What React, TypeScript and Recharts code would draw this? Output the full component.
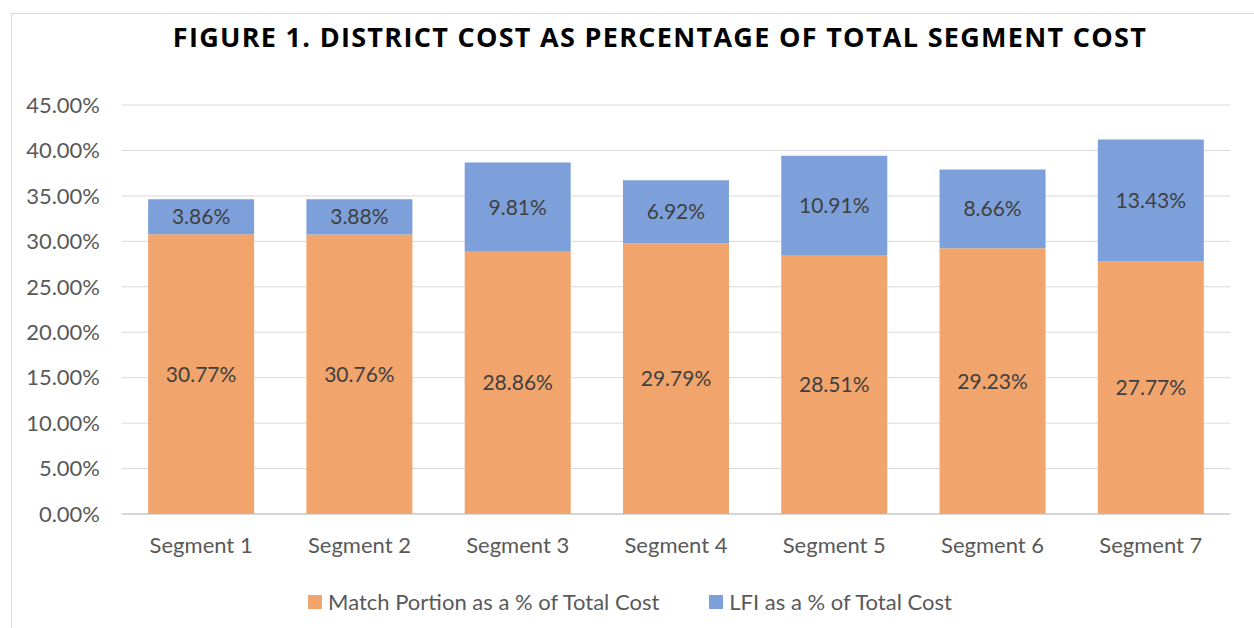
import React from "react";
import {
  BarChart,
  Bar,
  XAxis,
  YAxis,
  CartesianGrid,
  Legend,
  LabelList,
} from "recharts";

const segments = [
  "Segment 1",
  "Segment 2",
  "Segment 3",
  "Segment 4",
  "Segment 5",
  "Segment 6",
  "Segment 7",
];
const matchPortion = [30.77, 30.76, 28.86, 29.79, 28.51, 29.23, 27.77];
const lfiPortion = [3.86, 3.88, 9.81, 6.92, 10.91, 8.66, 13.43];
const yTicks = [0, 5, 10, 15, 20, 25, 30, 35, 40, 45];

const ORANGE = "#F1A46C";
const BLUE = "#7DA0DA";
const FONT = "Lato, 'Open Sans', sans-serif";

const data = segments.map((name, i) => ({
  name,
  match: matchPortion[i],
  lfi: lfiPortion[i],
}));

const pct = (v: any) => `${Number(v).toFixed(2)}%`;

const legendItems = [
  { label: "Match Portion as a % of Total Cost", color: ORANGE },
  { label: "LFI as a % of Total Cost", color: BLUE },
];

const renderLegend = () => (
  <div
    style={{
      display: "flex",
      justifyContent: "center",
      gap: 50,
      fontFamily: FONT,
      fontSize: 22,
      color: "#595959",
      paddingLeft: 30,
    }}
  >
    {legendItems.map((it) => (
      <div key={it.label} style={{ display: "flex", alignItems: "center" }}>
        <span
          style={{
            width: 14,
            height: 14,
            background: it.color,
            display: "inline-block",
            marginRight: 6,
          }}
        />
        {it.label}
      </div>
    ))}
  </div>
);

export default function App() {
  return (
    <div
      style={{
        position: "absolute",
        left: 0,
        top: 0,
        width: 1254,
        height: 628,
        background: "#fff",
        overflow: "hidden",
      }}
    >
      <div
        style={{
          position: "absolute",
          left: 11,
          top: 13,
          width: 1260,
          height: 640,
          border: "1px solid #d9d9d9",
        }}
      />
      <div
        style={{
          position: "absolute",
          top: 18,
          left: 0,
          width: 1320,
          textAlign: "center",
          fontFamily: "'Open Sans', sans-serif",
          fontWeight: 700,
          fontSize: 27,
          letterSpacing: 1.3,
          color: "#000",
          whiteSpace: "nowrap",
        }}
      >
        FIGURE 1. DISTRICT COST AS PERCENTAGE OF TOTAL SEGMENT COST
      </div>
      <BarChart
        width={1254}
        height={628}
        data={data}
        margin={{ top: 105, right: 24, left: 0, bottom: 13 }}
        barCategoryGap="16.5%"
      >
        <CartesianGrid vertical={false} stroke="#d9d9d9" />
        <XAxis
          dataKey="name"
          axisLine={{ stroke: "#bfbfbf" }}
          tickLine={false}
          tick={{ fill: "#595959", fontSize: 22, fontFamily: FONT }}
          tickMargin={17}
          height={74}
        />
        <YAxis
          width={122}
          domain={[0, 45]}
          ticks={yTicks}
          tickFormatter={pct}
          axisLine={false}
          tickLine={false}
          tickSize={20}
          tick={{ fill: "#595959", fontSize: 22, fontFamily: FONT }}
        />
        <Legend verticalAlign="bottom" content={renderLegend} />
        <Bar dataKey="match" stackId="a" fill={ORANGE} isAnimationActive={false}>
          <LabelList
            dataKey="match"
            position="center"
            formatter={pct}
            fill="#404040"
            fontSize={21}
            fontFamily={FONT}
          />
        </Bar>
        <Bar dataKey="lfi" stackId="a" fill={BLUE} isAnimationActive={false}>
          <LabelList
            dataKey="lfi"
            position="center"
            formatter={pct}
            fill="#404040"
            fontSize={21}
            fontFamily={FONT}
          />
        </Bar>
      </BarChart>
    </div>
  );
}
